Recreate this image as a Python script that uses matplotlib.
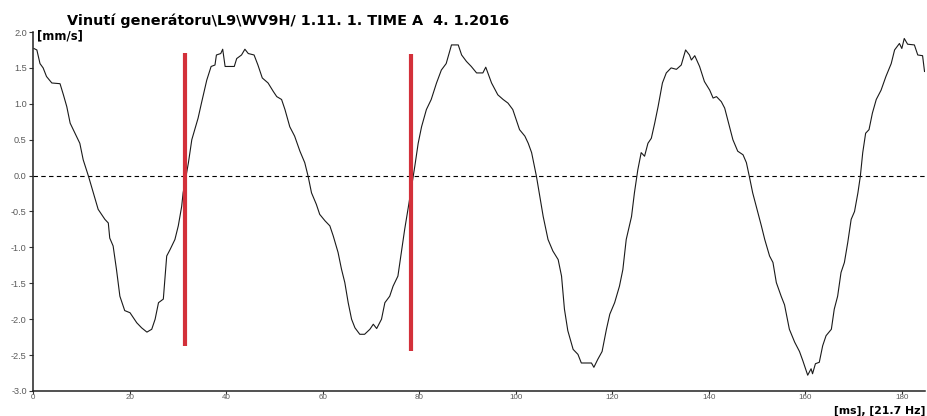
import matplotlib
matplotlib.use("Agg")
import matplotlib.pyplot as plt
from matplotlib.ticker import FormatStrFormatter

# ---- data ----
time_ms = [0.2, 0.8, 1.45, 2.1, 2.8, 3.9, 5.6, 6.3, 7.0, 7.7, 8.7, 9.7, 10.4, 11.5, 12.5, 13.5,
           14.9, 15.6, 15.9, 16.6, 17.3, 18.0, 19.0, 20.1, 21.5, 22.5, 23.6, 24.6, 25.3, 26.0,
           27.0, 27.7, 28.4, 29.4, 30.1, 30.8, 31.1, 32.2, 32.9, 34.2, 34.9, 36.0, 36.9, 37.7,
           38.0, 38.9, 39.3, 39.8, 41.7, 42.2, 43.2, 43.9, 44.6, 45.8, 46.6, 47.5, 48.7, 49.8,
           50.5, 51.5, 52.2, 53.2, 54.2, 55.3, 56.3, 57.0, 57.7, 58.7, 59.4, 60.5, 61.5, 62.2,
           63.2, 63.9, 64.6, 65.3, 66.0, 66.7, 67.7, 68.7, 69.8, 70.5, 71.2, 72.2, 72.9, 73.9,
           74.6, 75.6, 76.3, 77.0, 77.9, 79.1, 79.8, 80.5, 81.5, 82.5, 83.6, 84.6, 85.6, 86.7,
           88.1, 88.8, 89.8, 90.8, 91.9, 93.2, 93.8, 95.0, 96.3, 97.4, 98.4, 99.4, 100.1, 100.8,
           101.9, 102.6, 103.3, 104.3, 105.0, 105.7, 106.7, 107.7, 108.8, 109.5, 110.1, 110.8,
           111.9, 112.9, 113.6, 115.7, 116.2, 117.0, 117.9, 118.8, 119.5, 120.5, 121.5, 122.2,
           122.9, 124.0, 124.6, 125.3, 126.0, 126.7, 127.4, 128.1, 128.8, 129.5, 130.4, 131.2,
           132.2, 133.3, 134.3, 135.2, 136.0, 136.4, 137.1, 138.1, 139.1, 140.2, 140.9, 141.6,
           142.6, 143.3, 144.3, 145.0, 146.0, 147.1, 147.8, 148.4, 149.1, 150.2, 150.9, 151.6,
           152.6, 153.3, 154.0, 155.0, 155.7, 156.7, 157.8, 158.8, 159.5, 160.5, 161.2, 161.5,
           162.1, 162.9, 163.6, 164.3, 165.4, 166.0, 166.7, 167.4, 168.1, 168.8, 169.5, 170.2,
           170.9, 171.4, 171.9, 172.5, 173.2, 173.9, 174.7, 175.7, 176.7, 177.8, 178.5, 179.5,
           180.0, 180.5, 181.2, 182.6, 183.3, 184.3, 184.7]
velocity = [1.77, 1.75, 1.56, 1.50, 1.38, 1.29, 1.28, 1.125, 0.96, 0.73, 0.59, 0.45, 0.22, -0.01,
            -0.24, -0.47, -0.61, -0.66, -0.87, -0.98, -1.31, -1.68, -1.88, -1.91, -2.05, -2.12,
            -2.18, -2.14, -2.0, -1.77, -1.72, -1.12, -1.03, -0.89, -0.70, -0.43, -0.24, 0.18,
            0.5, 0.8, 1.01, 1.33, 1.52, 1.54, 1.68, 1.70, 1.76, 1.52, 1.52, 1.63, 1.68, 1.76,
            1.70, 1.68, 1.54, 1.36, 1.29, 1.17, 1.10, 1.06, 0.92, 0.68, 0.55, 0.34, 0.18, -0.01,
            -0.24, -0.40, -0.54, -0.63, -0.70, -0.84, -1.07, -1.30, -1.49, -1.77, -2.0, -2.12,
            -2.21, -2.21, -2.14, -2.07, -2.13, -2.0, -1.77, -1.68, -1.54, -1.40, -1.07, -0.75,
            -0.38, 0.13, 0.45, 0.68, 0.92, 1.06, 1.29, 1.47, 1.56, 1.82, 1.82, 1.68, 1.59, 1.52,
            1.43, 1.43, 1.51, 1.29, 1.125, 1.06, 1.01, 0.92, 0.78, 0.64, 0.55, 0.45, 0.32, -0.01,
            -0.29, -0.57, -0.89, -1.05, -1.17, -1.40, -1.86, -2.16, -2.42, -2.49, -2.61, -2.61,
            -2.67, -2.56, -2.45, -2.14, -1.93, -1.77, -1.54, -1.31, -0.89, -0.57, -0.24, 0.08,
            0.32, 0.27, 0.45, 0.52, 0.73, 0.96, 1.29, 1.43, 1.50, 1.48, 1.54, 1.75, 1.68, 1.61,
            1.67, 1.52, 1.31, 1.19, 1.08, 1.10, 1.03, 0.94, 0.68, 0.5, 0.34, 0.29, 0.18, -0.01,
            -0.24, -0.52, -0.70, -0.89, -1.12, -1.21, -1.49, -1.68, -1.80, -2.14, -2.32, -2.45,
            -2.58, -2.78, -2.69, -2.76, -2.62, -2.60, -2.37, -2.23, -2.14, -1.86, -1.68, -1.35,
            -1.21, -0.93, -0.61, -0.50, -0.24, -0.01, 0.32, 0.59, 0.64, 0.87, 1.06, 1.19, 1.38,
            1.56, 1.75, 1.84, 1.77, 1.91, 1.83, 1.82, 1.68, 1.67, 1.45]

marker_times = [31.5, 78.4]
marker_top = [1.71, 1.69]
marker_bottom = [-2.37, -2.44]

x_ticks = [0, 20, 40, 60, 80, 100, 120, 140, 160, 180]
y_ticks = [2.0, 1.5, 1.0, 0.5, 0.0, -0.5, -1.0, -1.5, -2.0, -2.5, -3.0]

title = "Vinutí generátoru\\L9\\WV9H/ 1.11. 1. TIME A  4. 1.2016"
y_unit = "[mm/s]"
x_unit = "[ms], [21.7 Hz]"

# ---- figure ----
plt.rcParams['font.family'] = ['Liberation Sans', 'DejaVu Sans']
fig = plt.figure(figsize=(9.27, 4.16), dpi=100)
ax = fig.add_axes([33/927, 1 - 391/416, (925 - 33)/927, (391 - 32)/416])

ax.axhline(0, color='black', lw=0.8, ls=(0, (4, 3)), zorder=1)
ax.plot(time_ms, velocity, color='#1a1a1a', lw=0.8, zorder=2)
ax.vlines(marker_times, marker_bottom, marker_top, color='#d3303a', lw=3.0, zorder=3)

ax.set_xlim(0, 184.8)
ax.set_ylim(-3.0, 2.0)
ax.set_xticks(x_ticks)
ax.set_yticks(y_ticks)
ax.yaxis.set_major_formatter(FormatStrFormatter('%.1f'))

for s in ['top', 'right']:
    ax.spines[s].set_visible(False)
for s in ['left', 'bottom']:
    ax.spines[s].set_linewidth(1.1)
    ax.spines[s].set_color('#222222')

ax.tick_params(axis='both', direction='out', length=3, width=0.8, color='#333333',
               labelsize=6.6, labelcolor='#5a5a5a', pad=1.5)
ax.tick_params(axis='x', length=2, labelsize=5.8, pad=0.3)

bold_font = ['DejaVu Sans']
fig.text(67/927, 1 - 21/416, title, fontsize=10.4, fontweight='bold', family=bold_font,
         ha='left', va='center')
fig.text(37/927, 1 - 36/416, y_unit, fontsize=8.3, fontweight='bold', family=bold_font,
         ha='left', va='center')
fig.text(925/927, 0.2/416, x_unit, fontsize=7.8, fontweight='bold', family=bold_font,
         ha='right', va='bottom')

fig.savefig('out.png', dpi=100)
